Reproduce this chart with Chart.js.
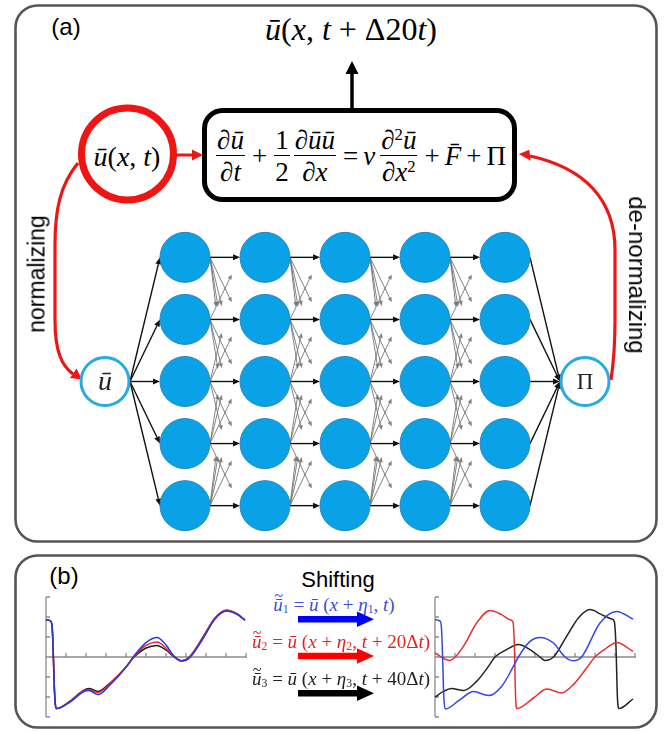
<!DOCTYPE html>
<html><head><meta charset="utf-8">
<script src="https://cdn.jsdelivr.net/npm/chart.js@4.4.1/dist/chart.umd.min.js"></script>
<style>
html,body{margin:0;padding:0;background:#fff;}
#root{position:relative;width:670px;height:732px;overflow:hidden;font-family:'Liberation Sans',Arial,sans-serif;}
canvas{position:absolute;}
.t{position:absolute;white-space:nowrap;line-height:1;transform:translate(-50%,-50%);}
.serif{font-family:'Liberation Serif','Times New Roman',serif;}
.eq{position:absolute;left:204px;top:110px;width:312px;height:92px;display:flex;align-items:center;justify-content:center;font-family:'Liberation Serif',serif;font-size:27px;line-height:1.05;}
.fr{display:inline-flex;flex-direction:column;align-items:center;margin:0 2px;}
.fr>span:first-child{border-bottom:1.6px solid #000;padding:0 1px 1px 1px;}
.fr>span:last-child{padding-top:2px;}
.op{margin:0 5px;}
sup{font-size:0.62em;vertical-align:0.55em;line-height:0;}
sub{font-size:0.62em;vertical-align:-0.25em;line-height:0;}
.dt{position:relative;display:inline-block;}
.dt .tl{position:absolute;left:55%;top:-0.42em;transform:translateX(-50%);font-size:0.85em;font-style:normal;}
</style></head>
<body><div id="root">
<svg width="670" height="732" style="position:absolute;left:0;top:0">
  <rect x="15.5" y="5.5" width="641" height="536" rx="22" fill="none" stroke="#555" stroke-width="2.6"/>
  <rect x="15.5" y="555.5" width="641" height="172" rx="22" fill="none" stroke="#555" stroke-width="2.6"/>
  <rect x="204.5" y="110.5" width="310" height="89" rx="18" fill="none" stroke="#000" stroke-width="5"/>
  <line x1="352" y1="108" x2="352" y2="72" stroke="#000" stroke-width="3.5"/>
  <polygon points="352,61 345.5,74 358.5,74" fill="#000"/>
  <circle cx="127.5" cy="154" r="46" fill="none" stroke="#f01515" stroke-width="7"/>
  <line x1="176" y1="155" x2="194" y2="155" stroke="#f01515" stroke-width="3"/>
  <polygon points="203,155 192,149.5 192,160.5" fill="#f01515"/>
  <path d="M 78 163 C 60 185, 55 210, 55 245 L 55 320 C 55 352, 62 366, 73 374" fill="none" stroke="#f01515" stroke-width="3.2"/>
  <polygon points="82,379.5 76.5,368.5 70,378" fill="#f01515"/>
  <path d="M 611 380 C 614 360, 615 345, 615 320 L 615 250 C 615 200, 585 168, 530 156" fill="none" stroke="#f01515" stroke-width="3.2"/>
  <polygon points="519,154 530.7,160.7 529.3,149.7" fill="#f01515"/>
  <path d="M 298 616 L 357 616 L 357 611.5 L 374 619.3 L 357 627 L 357 622.6 L 298 622.6 Z" fill="#0000ff"/>
  <path d="M 298 652.7 L 357 652.7 L 357 648.2 L 374 656 L 357 663.7 L 357 659.3 L 298 659.3 Z" fill="#ff0000"/>
  <path d="M 298 690 L 357 690 L 357 685.5 L 374 693.3 L 357 701 L 357 696.6 L 298 696.6 Z" fill="#000"/>
</svg>
<canvas id="net" width="640" height="329" style="left:25px;top:217px"></canvas>
<canvas id="leftPlot" width="220" height="134" style="left:36px;top:590px"></canvas>
<canvas id="rightPlot" width="220" height="134" style="left:425px;top:590px"></canvas>

<div class="t" style="left:66px;top:27px;font-size:24px;">(a)</div>
<div class="t serif" style="left:351px;top:29px;font-size:32px;"><i>&#x16B;</i>(<i>x</i>, <i>t</i> + &#916;20<i>t</i>)</div>
<div class="t serif" style="left:127px;top:157px;font-size:28px;"><i>&#x16B;</i>(<i>x</i>, <i>t</i>)</div>
<div class="eq">
  <span class="fr"><span><i>&#8706;&#x16B;</i></span><span><i>&#8706;t</i></span></span>
  <span class="op">+</span>
  <span class="fr"><span>1</span><span>2</span></span>
  <span class="fr"><span><i>&#8706;&#x16B;&#x16B;</i></span><span><i>&#8706;x</i></span></span>
  <span class="op">=</span>
  <span><i>&#957;</i></span>
  <span class="fr" style="margin-left:5px"><span><i>&#8706;</i><sup>2</sup><i>&#x16B;</i></span><span><i>&#8706;x</i><sup>2</sup></span></span>
  <span class="op">+</span>
  <span><i>F&#x304;</i></span>
  <span class="op">+</span>
  <span>&#928;</span>
</div>
<div class="t" style="left:37px;top:274px;font-size:23px;transform:translate(-50%,-50%) rotate(-90deg);">normalizing</div>
<div class="t" style="left:637px;top:275px;font-size:24px;transform:translate(-50%,-50%) rotate(90deg);">de-normalizing</div>

<div class="t" style="left:64px;top:576px;font-size:24px;">(b)</div>
<div class="t" style="left:338px;top:580px;font-size:22px;">Shifting</div>
<div class="t serif" style="left:334px;top:604px;font-size:19px;color:#3a4fd8;"><span class="dt"><i>&#x16B;</i><span class="tl">~</span></span><sub>1</sub> = <i>&#x16B;</i> (<i>x</i> + <i>&#951;</i><sub>1</sub>, <i>t</i>)</div>
<div class="t serif" style="left:341px;top:641px;font-size:19px;color:#e52222;"><span class="dt"><i>&#x16B;</i><span class="tl">~</span></span><sub>2</sub> = <i>&#x16B;</i> (<i>x</i> + <i>&#951;</i><sub>2</sub>, <i>t</i> + 20&#916;<i>t</i>)</div>
<div class="t serif" style="left:341px;top:678px;font-size:19px;color:#222;"><span class="dt"><i>&#x16B;</i><span class="tl">~</span></span><sub>3</sub> = <i>&#x16B;</i> (<i>x</i> + <i>&#951;</i><sub>3</sub>, <i>t</i> + 40&#916;<i>t</i>)</div>
</div>
<script>
// ---------- network structure ----------
const layerX = [0, 1, 2, 3, 4, 5, 6];          // input, 5 hidden layers, output
const hiddenLayers = [1, 2, 3, 4, 5];
const neuronRows = [0, 1, 2, 3, 4];
const ioRow = 2;
const ioLabels = ['\u016B', '\u03A0'];

// ---------- panel (b): left plot (three nearly overlapping curves) ----------
const leftX =     [0, 0.2, 0.3, 0.36, 0.42, 0.47, 0.53, 1.2, 1.87, 2.15, 2.6, 3.2, 4.0, 4.4, 5.0, 5.55, 6.0, 6.4, 6.78, 7.17, 7.87, 8.45, 9.03, 9.53, 9.95];
const leftBlue =  [1.86, 1.82, 1.6, 0.3, -1.6, -2.4, -2.58, -2.25, -1.74, -1.68, -1.88, -1.4, -0.52, 0.05, 0.72, 0.98, 0.6, 0.05, -0.2, -0.05, 0.95, 1.9, 2.3, 2.15, 1.83];
const leftRed =   [1.86, 1.82, 1.6, 0.3, -1.6, -2.4, -2.58, -2.22, -1.7, -1.62, -1.78, -1.33, -0.5, 0.02, 0.58, 0.75, 0.45, 0.02, -0.2, 0.0, 1.0, 1.95, 2.35, 2.17, 1.85];
const leftBlack = [1.86, 1.82, 1.6, 0.3, -1.6, -2.4, -2.58, -2.2, -1.67, -1.58, -1.72, -1.3, -0.5, 0.0, 0.45, 0.58, 0.35, 0.0, -0.19, 0.0, 1.03, 1.95, 2.33, 2.17, 1.85];

// ---------- panel (b): right plot (shifted curves) ----------
const rightBlueX = [0, 0.25, 0.32, 0.38, 0.44, 0.52, 1.25, 1.92, 2.67, 3.33, 3.92, 4.17, 4.75, 5.25, 5.92, 6.5, 6.92, 7.33, 8.25, 9.08, 9.9];
const rightBlueY = [1.86, 1.8, 1.5, 0.0, -2.0, -2.6, -2.13, -1.72, -1.93, -1.47, -0.47, 0, 0.78, 0.98, 0.7, 0, -0.19, 0, 1.7, 2.28, 1.9];
const rightRedX  = [0, 0.75, 1.42, 2.08, 2.75, 3.33, 3.75, 3.9, 3.97, 4.03, 4.1, 4.92, 5.6, 6.33, 6.92, 7.58, 8.0, 8.58, 9.08, 9.9];
const rightRedY  = [0.2, -0.17, 0.53, 1.7, 2.33, 2.12, 1.86, 1.75, 0.5, -2.0, -2.58, -2.05, -1.6, -1.8, -1.38, -0.55, 0, 0.45, 0.73, 0.28];
const rightBlackX = [0, 0.42, 0.83, 1.42, 2.08, 2.67, 3.0, 3.58, 4.17, 4.75, 5.25, 5.5, 5.92, 6.58, 7.17, 7.75, 8.33, 8.83, 8.97, 9.05, 9.12, 9.2, 9.9];
const rightBlackY = [-2.0, -1.72, -1.57, -1.68, -1.22, -0.47, 0, 0.37, 0.62, 0.37, 0, -0.17, 0, 1.03, 1.95, 2.37, 2.12, 1.9, 1.75, 0.5, -2.0, -2.58, -2.1];

const plotXTicks = [1, 2, 3, 4, 5, 6, 7, 8, 9, 10];
const plotYTicks = [-3, -2, -1, 1, 2, 3];

// ---------- styles ----------
const NODE_R = 25;
const NODE_BLUE = '#0aa2e6';
const IO_BLUE = '#2aaae2';

function arrow(ctx, x1, y1, x2, y2, color, lw, head, hw) {
  const a = Math.atan2(y2 - y1, x2 - x1);
  const bx = x2 - head * Math.cos(a), by = y2 - head * Math.sin(a);
  ctx.strokeStyle = color; ctx.fillStyle = color; ctx.lineWidth = lw;
  ctx.beginPath(); ctx.moveTo(x1, y1); ctx.lineTo(bx, by); ctx.stroke();
  ctx.beginPath(); ctx.moveTo(x2, y2);
  ctx.lineTo(bx + hw * Math.sin(a), by - hw * Math.cos(a));
  ctx.lineTo(bx - hw * Math.sin(a), by + hw * Math.cos(a));
  ctx.closePath(); ctx.fill();
}

const netEdges = {
  id: 'netEdges',
  beforeDatasetsDraw(chart) {
    const { ctx, scales: { x, y } } = chart;
    const px = v => x.getPixelForValue(v), py = v => y.getPixelForValue(v);
    const R = NODE_R;
    ctx.save();
    const inL = layerX[0], outL = layerX[layerX.length - 1];
    neuronRows.forEach(r => arrow(ctx, px(inL) + R, py(ioRow), px(hiddenLayers[0]) - R, py(r), '#111', 1.4, 7, 3));
    for (let i = 0; i < hiddenLayers.length - 1; i++) {
      const l = hiddenLayers[i], n = hiddenLayers[i + 1];
      neuronRows.forEach(r => neuronRows.forEach(s => {
        if (r === s) return;
        const x1 = px(l) + R, y1 = py(r), x2 = px(n) - R, y2 = py(s);
        const len = Math.hypot(x2 - x1, y2 - y1), L = 50;
        arrow(ctx, x1, y1, x1 + (x2 - x1) * L / len, y1 + (y2 - y1) * L / len, 'rgba(110,110,110,0.85)', 1, 5, 2.2);
      }));
      neuronRows.forEach(r => arrow(ctx, px(l) + R, py(r), px(n) - R, py(r), '#111', 1.4, 7, 3));
    }
    const last = hiddenLayers[hiddenLayers.length - 1];
    neuronRows.forEach(r => arrow(ctx, px(last) + R, py(r), px(outL) - R, py(ioRow), '#111', 1.4, 7, 3));
    ctx.restore();
  },
  afterDatasetsDraw(chart) {
    const { ctx, scales: { x, y } } = chart;
    ctx.save();
    ctx.fillStyle = '#222'; ctx.textAlign = 'center'; ctx.textBaseline = 'middle';
    ctx.font = 'italic 28px "Liberation Serif"';
    ctx.fillText(ioLabels[0], x.getPixelForValue(layerX[0]), y.getPixelForValue(ioRow) + 1);
    ctx.font = '23px "Liberation Serif"';
    ctx.fillText(ioLabels[1], x.getPixelForValue(layerX[layerX.length - 1]), y.getPixelForValue(ioRow) + 1);
    ctx.restore();
  }
};

const hiddenNodes = [];
hiddenLayers.forEach(l => neuronRows.forEach(r => hiddenNodes.push({ x: l, y: r })));
const ioNodes = [{ x: layerX[0], y: ioRow }, { x: layerX[layerX.length - 1], y: ioRow }];

new Chart(document.getElementById('net'), {
  type: 'scatter',
  data: { datasets: [
    { data: hiddenNodes, pointRadius: NODE_R, pointBackgroundColor: NODE_BLUE, pointBorderColor: '#2b86b8', pointBorderWidth: 1, clip: false },
    { data: ioNodes, pointRadius: NODE_R - 1, pointBackgroundColor: '#fff', pointBorderColor: IO_BLUE, pointBorderWidth: 3, clip: false }
  ] },
  options: {
    responsive: false, animation: false, events: [],
    layout: { padding: 0, autoPadding: false },
    plugins: { legend: { display: false }, tooltip: { enabled: false } },
    scales: { x: { type: 'linear', min: -1, max: 7, display: false }, y: { min: -0.65, max: 4.65, reverse: true, display: false } }
  },
  plugins: [netEdges]
});

const miniAxes = {
  id: 'miniAxes',
  beforeDatasetsDraw(chart) {
    const { ctx, scales: { x, y } } = chart;
    const x0 = x.getPixelForValue(0), y0 = y.getPixelForValue(0);
    ctx.save();
    ctx.strokeStyle = '#8c8c8c'; ctx.lineWidth = 1.3;
    ctx.beginPath();
    ctx.moveTo(x0, y.getPixelForValue(plotYTicks[plotYTicks.length - 1]));
    ctx.lineTo(x0, y.getPixelForValue(plotYTicks[0]));
    ctx.moveTo(x0, y0); ctx.lineTo(x.getPixelForValue(plotXTicks[plotXTicks.length - 1]) + 1, y0);
    plotYTicks.forEach(t => { const p = y.getPixelForValue(t); ctx.moveTo(x0, p); ctx.lineTo(x0 + 4, p); });
    plotXTicks.forEach(t => { const p = x.getPixelForValue(t); ctx.moveTo(p, y0); ctx.lineTo(p, y0 - 4); });
    ctx.stroke();
    ctx.restore();
  }
};

function pts(xs, ys) { return xs.map((v, i) => ({ x: v, y: ys[i] })); }
function plotChart(id, sets) {
  return new Chart(document.getElementById(id), {
    type: 'line',
    data: { datasets: sets.map(s => ({ data: s.data, borderColor: s.color, borderWidth: 1.5, pointRadius: 0, cubicInterpolationMode: 'monotone', fill: false, clip: false })) },
    options: {
      responsive: false, animation: false, events: [],
      layout: { padding: { left: 10, right: 10, top: 7, bottom: 7 }, autoPadding: false },
      plugins: { legend: { display: false }, tooltip: { enabled: false } },
      scales: { x: { type: 'linear', min: 0, max: 10, display: false }, y: { min: -3, max: 3, display: false } }
    },
    plugins: [miniAxes]
  });
}
plotChart('leftPlot', [
  { data: pts(leftX, leftBlue), color: '#2a35e0' },
  { data: pts(leftX, leftRed), color: '#e62a2a' },
  { data: pts(leftX, leftBlack), color: '#1e1e1e' }
]);
plotChart('rightPlot', [
  { data: pts(rightBlueX, rightBlueY), color: '#3446e6' },
  { data: pts(rightRedX, rightRedY), color: '#e63030' },
  { data: pts(rightBlackX, rightBlackY), color: '#222' }
]);
</script>
</body></html>
